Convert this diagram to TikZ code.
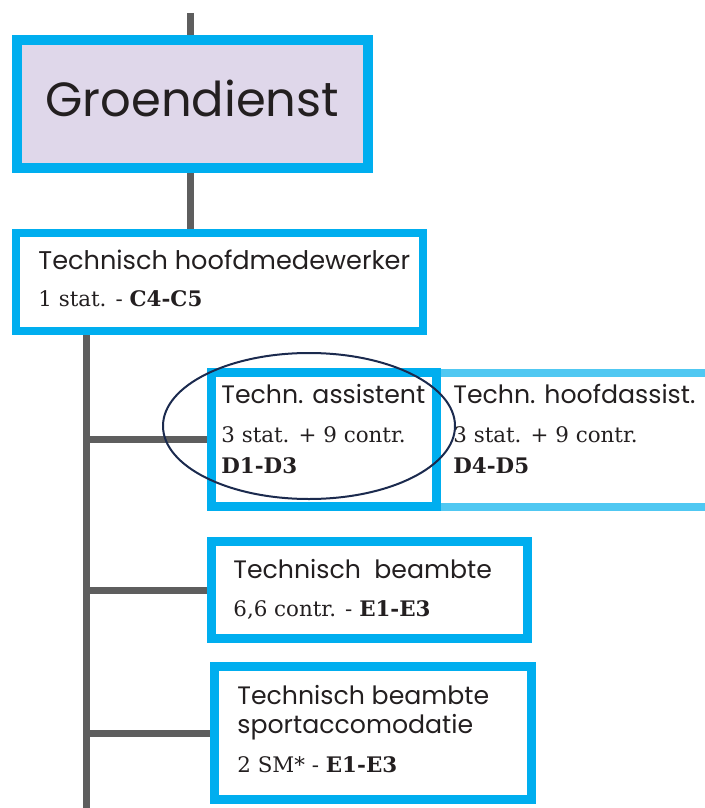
\documentclass[tikz,border=0pt]{standalone}
\usepackage{fontspec}
\newfontfamily\geofont{Poppins}
\newfontfamily\slabfont{DejaVu Serif}
\usetikzlibrary{backgrounds}

\definecolor{boxblue}{HTML}{00AEEF}
\definecolor{lightblue}{HTML}{50C8F2}
\definecolor{lavender}{HTML}{DFD7EA}
\definecolor{trunkgray}{HTML}{5E5E5E}
\definecolor{inkblue}{HTML}{1B2A4E}
\definecolor{txtgray}{HTML}{231F20}

\tikzset{
  orgbox/.style={draw=boxblue, line width=4.5pt, fill=white, inner sep=0pt},
  branch/.style={draw=trunkgray, line width=3.5pt},
  jobname/.style={anchor=base west, inner sep=0pt, text=txtgray, font=\geofont\fontsize{12.6}{15}\selectfont},
  jobinfo/.style={anchor=base west, inner sep=0pt, text=txtgray, font=\slabfont\fontsize{10.7}{12}\selectfont},
}

\begin{document}
\begin{tikzpicture}[x=0.5pt, y=-0.5pt]
  % Define canvas
  \useasboundingbox (0,0) rectangle (705,808);

  % Define trunk ends
  \coordinate (top) at (190,13);
  \coordinate (trunk) at (86,808);

  % Draw boxes
  \node[orgbox, line width=5pt, fill=lavender, minimum width=175.5pt, minimum height=64pt] (groen) at (192.5,104) {};
  \node[orgbox, line width=4pt, minimum width=203.5pt, minimum height=49pt] (hoofd) at (219.5,282) {};
  \node[orgbox, draw=lightblue, line width=4pt, minimum width=161.5pt, minimum height=67pt] (hoofdass) at (598.5,440) {};
  \node[orgbox, minimum width=112.5pt, minimum height=67pt] (assist) at (324,439.5) {};
  \node[orgbox, minimum width=158pt, minimum height=48.5pt] (beambte) at (369.5,590) {};
  \node[orgbox, minimum width=158.5pt, minimum height=66.5pt] (sport) at (373,733) {};

  % Draw connectors
  \begin{scope}[on background layer]
    \draw[branch] (top) -- (top |- groen.north);
    \draw[branch] (groen.south -| top) -- (hoofd.north -| top);
    \draw[branch] (hoofd.south -| trunk) -- (trunk);
    \draw[branch] (assist.west -| trunk) -- (assist.west);
    \draw[branch] (beambte.west -| trunk) -- (beambte.west);
    \draw[branch] (sport.west -| trunk) -- (sport.west);
  \end{scope}

  % Texts
  \node[jobname, font=\geofont\fontsize{24}{28}\selectfont] (groentxt) at (45,117) {Groendienst};

  \node[jobname, font=\geofont\fontsize{12.8}{15}\selectfont] (hoofdtxt) at (38,269) {Technisch hoofdmedewerker};
  \node[jobinfo] (hoofdinf) at (38,306) {1 stat. - \textbf{C4-C5}};

  \node[jobname] (assisttxt) at (221,403) {Techn. assistent};
  \node[jobinfo] (assistinf) at (221,442) {3 stat. + 9 contr.};
  \node[jobinfo] (assistsal) at (221,473) {\textbf{D1-D3}};

  \node[jobname] (hoofdasstxt) at (453,403) {Techn. hoofdassist.};
  \node[jobinfo] (hoofdassinf) at (453,442) {3 stat. + 9 contr.};
  \node[jobinfo] (hoofdasssal) at (453,473) {\textbf{D4-D5}};

  \node[jobname] (beambtetxt) at (233,578) {Technisch\ \ beambte};
  \node[jobinfo] (beambteinf) at (233,616) {6,6 contr. - \textbf{E1-E3}};

  \node[jobname] (sporttxt) at (237,704) {Technisch beambte};
  \node[jobname] (sporttxt2) at (237,733) {sportaccomodatie};
  \node[jobinfo] (sportinf) at (237,772) {2 SM* - \textbf{E1-E3}};

  % Mark selection
  \draw[inkblue, line width=1pt] (309,426) ellipse [x radius=73pt, y radius=36.5pt];
\end{tikzpicture}
\end{document}
